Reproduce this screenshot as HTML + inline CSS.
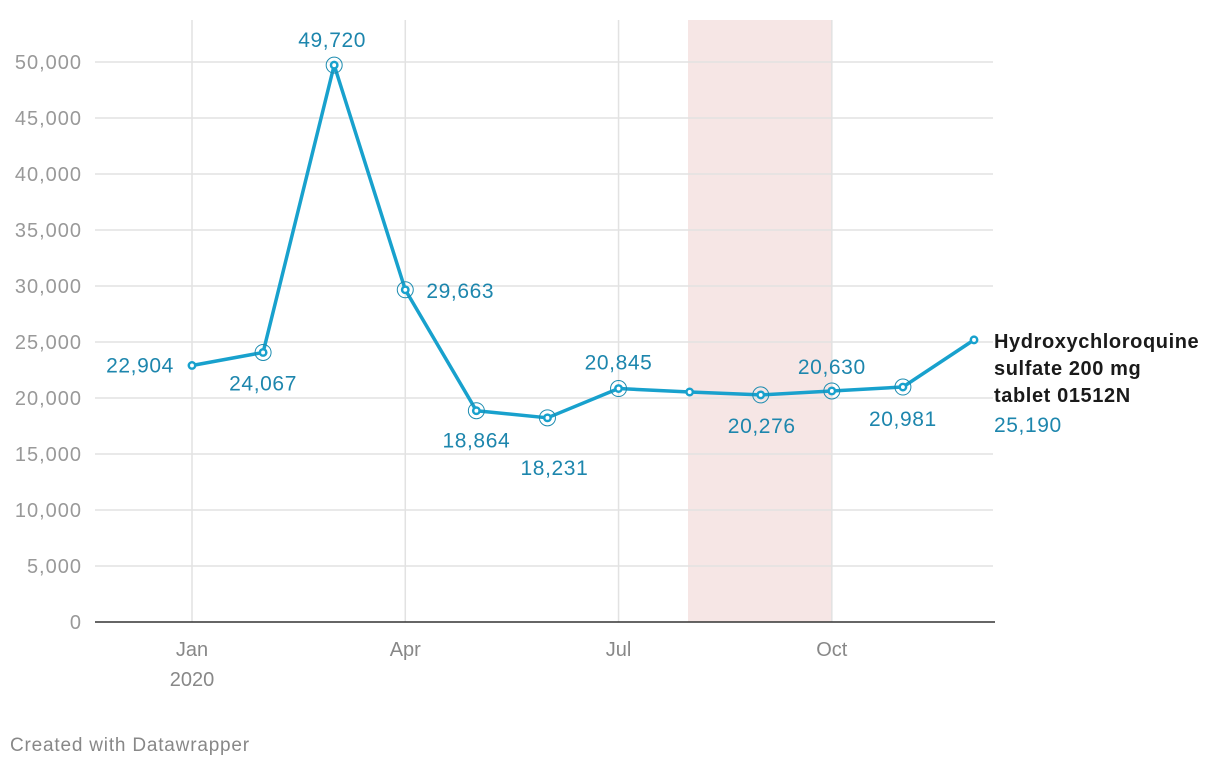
<!DOCTYPE html>
<html><head><meta charset="utf-8"><style>
body{margin:0;background:#fff;font-family:"Liberation Sans",sans-serif}
svg text{font-family:"Liberation Sans",sans-serif}
</style></head><body>
<svg width="1220" height="768" id="c">
<rect x="688" y="20" width="144" height="602" fill="#f6e6e5"/>
<g id="grid"></g><g id="xg"></g>
<line x1="95" x2="995" y1="622" y2="622" stroke="#333" stroke-width="1.5"/>
<path id="line" fill="none" stroke="#18a1cd" stroke-width="3.5" stroke-linejoin="round"/>
<g id="pts"></g>
<text x="994" y="348" font-size="20" font-weight="bold" fill="#1a1a1a" letter-spacing="0.6"><tspan x="994">Hydroxychloroquine</tspan><tspan x="994" dy="27">sulfate 200 mg</tspan><tspan x="994" dy="27">tablet 01512N</tspan></text>
<text x="10" y="751" font-size="19" fill="#888" letter-spacing="0.8">Created with Datawrapper</text>
</svg>
<script>
const months=["Jan","Feb","Mar","Apr","May","Jun","Jul","Aug","Sep","Oct","Nov","Dec"];
const values=[22904,24067,49720,29663,18864,18231,20845,20536,20276,20630,20981,25190];
const yTicks=[0,5000,10000,15000,20000,25000,30000,35000,40000,45000,50000];
const xTickIdx=[0,3,6,9];
const xTickLabels=["Jan","Apr","Jul","Oct"];
const labelIdx=[0,1,2,3,4,5,6,8,9,10,11];
const ringIdx=[1,2,3,4,5,6,8,9,10];
const NS="http://www.w3.org/2000/svg";
const x=i=>192+i*(974-192)/11;
const y=v=>622-v*560/50000;
function el(t,a,p){const e=document.createElementNS(NS,t);for(const k in a)e.setAttribute(k,a[k]);document.getElementById(p).appendChild(e);return e;}
yTicks.forEach(v=>{
 if(v>0){const l=el('line',{x1:95,x2:993,y1:y(v),y2:y(v),stroke:'#e2e2e2','stroke-width':1.5},'grid');
 
 }
 const t=el('text',{x:82,y:y(v)+7,'text-anchor':'end','font-size':20,'letter-spacing':1,fill:'#999'},'grid');
 t.textContent=v.toLocaleString('en-US');
 
 
});
xTickIdx.forEach((i,k)=>{
 const l=el('line',{x1:x(i),x2:x(i),y1:20,y2:622,stroke:'#e2e2e2','stroke-width':1.5},'xg');
 
 
 const t=el('text',{x:x(i),y:656,'text-anchor':'middle','font-size':20,fill:'#888'},'xg');
 t.textContent=xTickLabels[k];
 
 
});
const yr=el('text',{x:x(0),y:686,'text-anchor':'middle','font-size':20,fill:'#888'},'xg');yr.textContent="2020";


document.getElementById('line').setAttribute('d',values.map((v,i)=>(i?'L':'M')+x(i)+','+y(v)).join(''));
const off={0:[-52,7,'middle'],1:[0,38,'middle'],2:[-2,-18,'middle'],3:[55,8,'middle'],4:[0,37,'middle'],5:[7,57,'middle'],6:[0,-19,'middle'],8:[1,38,'middle'],9:[0,-17,'middle'],10:[0,39,'middle'],11:[20,92,'start']};
values.forEach((v,i)=>{
 if(ringIdx.includes(i)){const r=el('circle',{cx:x(i),cy:y(v),r:8,fill:'none',stroke:'#1d8cb0','stroke-width':1},'pts');
 
 }
 const c=el('circle',{cx:x(i),cy:y(v),r:3.2,fill:'#fff',stroke:'#18a1cd','stroke-width':2.5},'pts');
 
 
 if(labelIdx.includes(i)){const o=off[i];
 const t=el('text',{x:x(i)+o[0],y:y(v)+o[1],'text-anchor':o[2],'font-size':21,'letter-spacing':0.6,fill:'#1d86ad'},'pts');
 t.textContent=v.toLocaleString('en-US');
 
 }
});
</script>
</body></html>
